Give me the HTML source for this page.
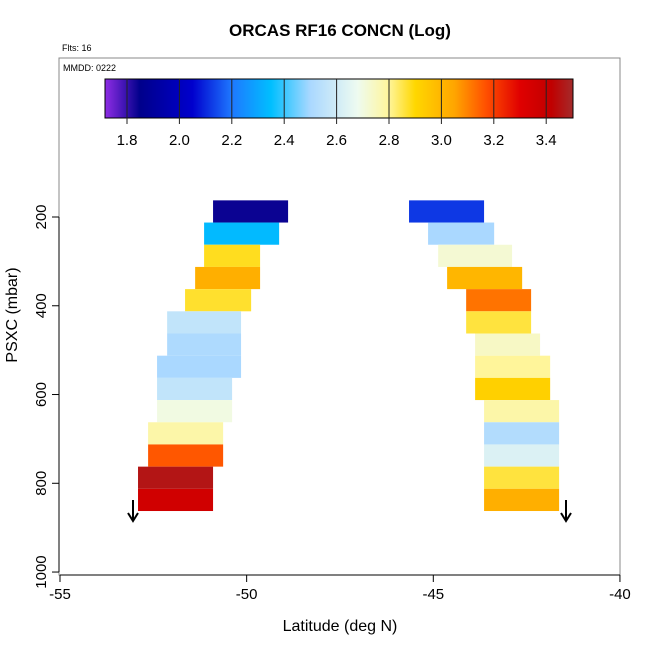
<!DOCTYPE html>
<html><head><meta charset="utf-8"><style>
body{margin:0;background:#fff;font-family:"Liberation Sans",sans-serif}
svg text{font-family:"Liberation Sans",sans-serif}
</style></head><body>
<svg id="chart" width="650" height="650" xmlns="http://www.w3.org/2000/svg">
<rect width="650" height="650" fill="#fff"/>
<text x="340" y="36" text-anchor="middle" font-size="17" font-weight="bold">ORCAS RF16 CONCN (Log)</text>
<text x="62" y="51" font-size="9">Flts: 16</text>
<rect x="59" y="58" width="561" height="517" fill="none" stroke="#888" stroke-width="1"/>
<text x="63" y="71" font-size="9">MMDD: 0222</text>
<g id="colorbar"></g>
<g id="cells"></g>
<g id="axes"></g>
<text x="340" y="631" text-anchor="middle" font-size="16">Latitude (deg N)</text>
<text x="17" y="315" text-anchor="middle" font-size="16" transform="rotate(-90 17 315)">PSXC (mbar)</text>
<g stroke="#000" stroke-width="2" fill="none"><line x1="133" y1="500" x2="133" y2="520"/><polyline points="128,513 133,521 138,513"/></g>
<g stroke="#000" stroke-width="2" fill="none"><line x1="566" y1="500" x2="566" y2="520"/><polyline points="561,513 566,521 571,513"/></g>
</svg>
<script>
const pressureTop = [162.5,212.5,262.5,312.5,362.5,412.5,462.5,512.5,562.5,612.5,662.5,712.5,762.5,812.5];
const leftLatMin = [-50.90,-51.14,-51.14,-51.38,-51.65,-52.13,-52.13,-52.40,-52.40,-52.40,-52.64,-52.64,-52.91,-52.91];
const leftLatMax = [-48.89,-49.13,-49.64,-49.64,-49.88,-50.15,-50.15,-50.15,-50.39,-50.39,-50.63,-50.63,-50.90,-50.90];
const leftValues = [1.84,2.34,2.88,3.02,2.87,2.56,2.51,2.5,2.56,2.7,2.78,3.16,3.46,3.36];
const rightLatMin = [-45.65,-45.14,-44.87,-44.63,-44.12,-44.12,-43.88,-43.88,-43.88,-43.64,-43.64,-43.64,-43.64,-43.64];
const rightLatMax = [-43.64,-43.37,-42.89,-42.62,-42.38,-42.38,-42.14,-41.87,-41.87,-41.63,-41.63,-41.63,-41.63,-41.63];
const rightValues = [2.12,2.5,2.72,3.0,3.12,2.86,2.74,2.8,2.92,2.78,2.52,2.63,2.86,3.02];
const xTicks = [-55,-50,-45,-40];
const yTicks = [200,400,600,800,1000];
const cbTicks = [1.8,2.0,2.2,2.4,2.6,2.8,3.0,3.2,3.4];
const cbStops = [[1.72,'#8a2be2'],[1.85,'#00008b'],[2.05,'#0000cd'],[2.2,'#1e78ff'],[2.35,'#00bfff'],[2.5,'#aad8ff'],[2.68,'#eefbf0'],[2.8,'#fff59a'],[2.9,'#ffd700'],[3.05,'#ffa500'],[3.17,'#ff5000'],[3.3,'#e00000'],[3.42,'#c00000'],[3.5,'#a52a2a']];

const NS='http://www.w3.org/2000/svg';
const xS = lat => 60 + (lat + 55) * 37.33;
const yS = p => 217 + (p - 200) * 0.4438;
const cbX = v => 127 + (v - 1.8) * 262;
function hex(c){return [1,3,5].map(i=>parseInt(c.substr(i,2),16));}
function color(v){
  if(v<=cbStops[0][0]) return cbStops[0][1];
  for(let i=1;i<cbStops.length;i++){
    if(v<=cbStops[i][0]){
      const [a,ca]=cbStops[i-1],[b,cb]=cbStops[i];
      const t=(v-a)/(b-a),A=hex(ca),B=hex(cb);
      return 'rgb('+A.map((x,k)=>Math.round(x+(B[k]-x)*t)).join(',')+')';
    }
  }
  return cbStops[cbStops.length-1][1];
}
function mk(tag,attrs,parent){const e=document.createElementNS(NS,tag);for(const k in attrs)e.setAttribute(k,attrs[k]);parent.appendChild(e);return e;}

const cb=document.getElementById('colorbar');
for(let px=105;px<573;px++){
  const v=1.8+(px+0.5-127)/262;
  const r=mk('rect',{x:px,y:79,width:1.2,height:39,fill:color(v)},cb);
  
  
}
mk('rect',{x:105,y:79,width:468,height:39,fill:'none',stroke:'#000','stroke-width':1},cb);
cbTicks.forEach(v=>{
  const x=cbX(v);
  const l=mk('line',{x1:x,y1:79,x2:x,y2:124,stroke:'#222','stroke-width':1},cb);
  
  
  const t=mk('text',{x:x,y:145,'text-anchor':'middle','font-size':'15'},cb);
  t.textContent=v.toFixed(1);
  
  
});

const cells=document.getElementById('cells');
function drawRows(mins,maxs,vals,side){
  vals.forEach((v,i)=>{
    const x0=xS(mins[i]),x1=xS(maxs[i]),y0=yS(pressureTop[i]),y1=yS(pressureTop[i]+50);
    const r=mk('rect',{x:x0,y:y0,width:x1-x0,height:y1-y0,fill:color(v)},cells);
    
    
  });
}
drawRows(leftLatMin,leftLatMax,leftValues,'left');
drawRows(rightLatMin,rightLatMax,rightValues,'right');

const ax=document.getElementById('axes');
mk('line',{x1:xS(-55),y1:575,x2:xS(-40),y2:575,stroke:'#000'},ax);
xTicks.forEach(v=>{
  const x=xS(v);
  mk('line',{x1:x,y1:575,x2:x,y2:582,stroke:'#000'},ax);
  const t=mk('text',{x:x,y:599,'text-anchor':'middle','font-size':'15'},ax);
  t.textContent=v;
  
  
});
mk('line',{x1:59,y1:yS(200),x2:59,y2:yS(1000),stroke:'#000'},ax);
yTicks.forEach(v=>{
  const y=yS(v);
  mk('line',{x1:52,y1:y,x2:59,y2:y,stroke:'#000'},ax);
  const t=mk('text',{x:46,y:y,'text-anchor':'middle','font-size':'15',transform:'rotate(-90 46 '+y+')'},ax);
  t.textContent=v;
  
  
});
</script>
</body></html>
